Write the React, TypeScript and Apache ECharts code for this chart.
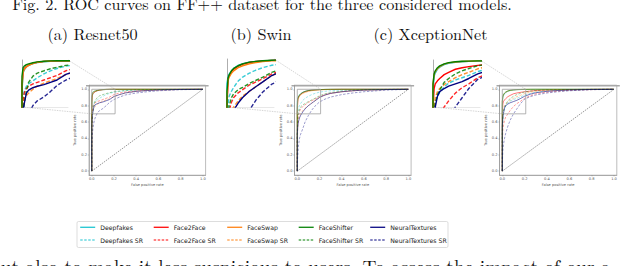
import React, { useEffect, useRef } from 'react';
import * as echarts from 'echarts';

// ---------- data ----------
const fpr = [0, 0, 0.005, 0.01, 0.02, 0.03, 0.05, 0.07, 0.1, 0.13, 0.16, 0.2, 0.25, 0.3, 0.4, 0.5, 0.6, 0.8, 1.0];

const methods = ['Deepfakes', 'Face2Face', 'FaceSwap', 'FaceShifter', 'NeuralTextures'];
const methodColors = ['#17c3cf', '#ff0000', '#ff7f0e', '#008000', '#000080'];
const panelTitles = ['(a) Resnet50', '(b) Swin', '(c) XceptionNet'];
const tickValues = [0, 0.2, 0.4, 0.6, 0.8, 1.0];
const insetX = [0, 0.21];
const insetY = [0.7, 1.0];
const chanceX = [0, 1];
const chanceY = [0, 1];

// (a) Resnet50
const resnetDeepfakes = [0, 0.8, 0.92, 0.94, 0.96, 0.97, 0.982, 0.988, 0.994, 0.997, 0.998, 0.999, 1, 1, 1, 1, 1, 1, 1];
const resnetDeepfakesSR = [0, 0.55, 0.74, 0.8, 0.835, 0.85, 0.87, 0.89, 0.915, 0.935, 0.95, 0.965, 0.975, 0.982, 0.99, 0.994, 0.997, 0.999, 1];
const resnetFace2Face = [0, 0.85, 0.93, 0.95, 0.962, 0.972, 0.985, 0.99, 0.996, 0.998, 0.999, 1, 1, 1, 1, 1, 1, 1, 1];
const resnetFace2FaceSR = [0, 0.5, 0.72, 0.79, 0.82, 0.835, 0.85, 0.86, 0.875, 0.89, 0.905, 0.935, 0.955, 0.968, 0.98, 0.988, 0.993, 0.998, 1];
const resnetFaceSwap = [0, 0.82, 0.925, 0.945, 0.96, 0.97, 0.982, 0.99, 0.995, 0.998, 0.999, 1, 1, 1, 1, 1, 1, 1, 1];
const resnetFaceSwapSR = [0, 0.45, 0.7, 0.75, 0.775, 0.79, 0.815, 0.835, 0.855, 0.87, 0.885, 0.91, 0.935, 0.955, 0.975, 0.985, 0.992, 0.998, 1];
const resnetFaceShifter = [0, 0.9, 0.955, 0.965, 0.975, 0.98, 0.987, 0.993, 0.997, 0.999, 1, 1, 1, 1, 1, 1, 1, 1, 1];
const resnetFaceShifterSR = [0, 0.5, 0.65, 0.72, 0.8, 0.86, 0.9, 0.92, 0.935, 0.948, 0.958, 0.97, 0.978, 0.985, 0.992, 0.995, 0.997, 0.999, 1];
const resnetNeuralTextures = [0, 0.55, 0.68, 0.72, 0.79, 0.81, 0.825, 0.835, 0.845, 0.86, 0.875, 0.912, 0.935, 0.955, 0.975, 0.985, 0.992, 0.998, 1];
const resnetNeuralTexturesSR = [0, 0.3, 0.45, 0.52, 0.6, 0.65, 0.71, 0.74, 0.765, 0.8, 0.84, 0.875, 0.905, 0.93, 0.955, 0.97, 0.982, 0.995, 1];

// (b) Swin
const swinDeepfakes = [0, 0.85, 0.895, 0.91, 0.93, 0.945, 0.965, 0.975, 0.985, 0.99, 0.993, 0.996, 0.998, 0.999, 1, 1, 1, 1, 1];
const swinDeepfakesSR = [0, 0.5, 0.72, 0.77, 0.8, 0.825, 0.865, 0.89, 0.915, 0.935, 0.95, 0.965, 0.975, 0.982, 0.99, 0.994, 0.997, 0.999, 1];
const swinFace2Face = [0, 0.7, 0.88, 0.9, 0.925, 0.94, 0.96, 0.972, 0.983, 0.99, 0.993, 0.996, 0.998, 0.999, 1, 1, 1, 1, 1];
const swinFace2FaceSR = [0, 0.4, 0.62, 0.68, 0.73, 0.76, 0.79, 0.81, 0.84, 0.86, 0.88, 0.91, 0.935, 0.95, 0.97, 0.982, 0.99, 0.997, 1];
const swinFaceSwap = [0, 0.75, 0.87, 0.89, 0.915, 0.93, 0.95, 0.962, 0.975, 0.983, 0.988, 0.993, 0.996, 0.998, 1, 1, 1, 1, 1];
const swinFaceSwapSR = [0, 0.35, 0.55, 0.62, 0.67, 0.7, 0.74, 0.77, 0.8, 0.83, 0.86, 0.9, 0.93, 0.95, 0.97, 0.982, 0.99, 0.997, 1];
const swinFaceShifter = [0, 0.8, 0.885, 0.905, 0.93, 0.945, 0.962, 0.974, 0.985, 0.99, 0.994, 0.997, 0.999, 1, 1, 1, 1, 1, 1];
const swinFaceShifterSR = [0, 0.45, 0.66, 0.71, 0.76, 0.785, 0.81, 0.825, 0.85, 0.87, 0.89, 0.92, 0.945, 0.96, 0.978, 0.987, 0.993, 0.998, 1];
const swinNeuralTextures = [0, 0.45, 0.55, 0.6, 0.65, 0.68, 0.725, 0.76, 0.8, 0.83, 0.86, 0.9, 0.93, 0.95, 0.97, 0.982, 0.99, 0.997, 1];
const swinNeuralTexturesSR = [0, 0.1, 0.2, 0.3, 0.4, 0.45, 0.52, 0.6, 0.68, 0.745, 0.795, 0.845, 0.88, 0.905, 0.935, 0.955, 0.97, 0.99, 1];

// (c) XceptionNet
const xceptionDeepfakes = [0, 0.8, 0.9, 0.92, 0.945, 0.958, 0.975, 0.984, 0.99, 0.994, 0.996, 0.998, 0.999, 1, 1, 1, 1, 1, 1];
const xceptionDeepfakesSR = [0, 0.45, 0.68, 0.73, 0.77, 0.795, 0.83, 0.855, 0.875, 0.89, 0.905, 0.93, 0.95, 0.965, 0.98, 0.988, 0.993, 0.998, 1];
const xceptionFace2Face = [0, 0.7, 0.82, 0.85, 0.87, 0.885, 0.91, 0.925, 0.945, 0.955, 0.962, 0.97, 0.978, 0.985, 0.992, 0.995, 0.997, 0.999, 1];
const xceptionFace2FaceSR = [0, 0.35, 0.5, 0.56, 0.62, 0.66, 0.7, 0.74, 0.79, 0.825, 0.85, 0.89, 0.92, 0.945, 0.965, 0.978, 0.988, 0.996, 1];
const xceptionFaceSwap = [0, 0.85, 0.91, 0.93, 0.95, 0.962, 0.978, 0.986, 0.992, 0.995, 0.997, 0.999, 1, 1, 1, 1, 1, 1, 1];
const xceptionFaceSwapSR = [0, 0.5, 0.7, 0.76, 0.8, 0.82, 0.845, 0.865, 0.89, 0.91, 0.925, 0.948, 0.965, 0.975, 0.985, 0.991, 0.995, 0.999, 1];
const xceptionFaceShifter = [0, 0.85, 0.915, 0.935, 0.955, 0.967, 0.98, 0.988, 0.994, 0.997, 0.998, 0.999, 1, 1, 1, 1, 1, 1, 1];
const xceptionFaceShifterSR = [0, 0.45, 0.65, 0.72, 0.78, 0.81, 0.86, 0.885, 0.915, 0.935, 0.95, 0.968, 0.978, 0.985, 0.992, 0.995, 0.997, 0.999, 1];
const xceptionNeuralTextures = [0, 0.55, 0.65, 0.7, 0.77, 0.8, 0.82, 0.835, 0.85, 0.865, 0.885, 0.915, 0.94, 0.958, 0.975, 0.985, 0.992, 0.998, 1];
const xceptionNeuralTexturesSR = [0, 0.1, 0.25, 0.32, 0.4, 0.46, 0.55, 0.62, 0.7, 0.76, 0.82, 0.88, 0.91, 0.93, 0.955, 0.97, 0.982, 0.995, 1];

const captionText = 'Fig. 2. ROC curves on FF++ dataset for the three considered models.';
const bodyText = 'but also to make it less suspicious to users. To assess the impact of our a';

// ---------- layout ----------
const tprByPanel = [
  [resnetDeepfakes, resnetDeepfakesSR, resnetFace2Face, resnetFace2FaceSR, resnetFaceSwap, resnetFaceSwapSR, resnetFaceShifter, resnetFaceShifterSR, resnetNeuralTextures, resnetNeuralTexturesSR],
  [swinDeepfakes, swinDeepfakesSR, swinFace2Face, swinFace2FaceSR, swinFaceSwap, swinFaceSwapSR, swinFaceShifter, swinFaceShifterSR, swinNeuralTextures, swinNeuralTexturesSR],
  [xceptionDeepfakes, xceptionDeepfakesSR, xceptionFace2Face, xceptionFace2FaceSR, xceptionFaceSwap, xceptionFaceSwapSR, xceptionFaceShifter, xceptionFaceShifterSR, xceptionNeuralTextures, xceptionNeuralTexturesSR],
];

const mainGrids = [
  { left: 89, top: 85.2, width: 116.6, height: 90 },
  { left: 294.5, top: 85.2, width: 116.6, height: 90 },
  { left: 499.5, top: 85.2, width: 117.3, height: 90 },
];
const insetGrids = [
  { left: 22, top: 60, width: 46, height: 47 },
  { left: 227, top: 59, width: 47, height: 48 },
  { left: 433, top: 60, width: 47, height: 47 },
];
const titleCenters = [92.5, 261, 430.5];
const legendLefts = [79.5, 153, 226.5, 298, 369.5];

const serif = '"Latin Modern Roman", "Liberation Serif", serif';
const sans = '"DejaVu Sans", sans-serif';

export default function App() {
  const ref = useRef<HTMLDivElement>(null);
  useEffect(() => {
    if (!ref.current) return;
    const chart = echarts.init(ref.current, undefined, { renderer: 'svg' });

    const grid: any[] = [
      ...mainGrids.map((g) => ({ ...g, show: true, borderColor: '#8f8f8f', borderWidth: 0.6 })),
      ...insetGrids.map((g) => ({ ...g, show: false })),
    ];

    const mainX = mainGrids.map((_, i) => ({
      gridIndex: i, type: 'value', min: -0.025, max: 1.025,
      splitLine: { show: false },
      axisLine: { show: true, onZero: false, lineStyle: { color: '#8f8f8f', width: 0.6 } },
      axisTick: { show: true, length: 1.2, customValues: tickValues, lineStyle: { color: '#777', width: 0.4 } },
      axisLabel: { customValues: tickValues, formatter: (v: number) => v.toFixed(1), fontSize: 3.6, color: '#555', margin: 2, fontFamily: sans },
      name: 'False positive rate', nameLocation: 'middle', nameGap: 8,
      nameTextStyle: { fontSize: 3.6, color: '#555', fontFamily: sans },
    }));
    const mainY = mainGrids.map((_, i) => ({
      gridIndex: i, type: 'value', min: -0.05, max: 1.05,
      splitLine: { show: false },
      axisLine: { show: true, onZero: false, lineStyle: { color: '#8f8f8f', width: 0.6 } },
      axisTick: { show: true, length: 1.2, customValues: tickValues, lineStyle: { color: '#777', width: 0.4 } },
      axisLabel: { customValues: tickValues, formatter: (v: number) => v.toFixed(1), fontSize: 3.6, color: '#555', margin: 2, fontFamily: sans },
      name: 'True positive rate', nameLocation: 'middle', nameGap: 10,
      nameTextStyle: { fontSize: 3.6, color: '#555', fontFamily: sans },
    }));
    const inX = insetGrids.map((_, i) => ({
      gridIndex: i + 3, type: 'value', min: insetX[0], max: insetX[1],
      splitLine: { show: false }, axisTick: { show: false }, axisLabel: { show: false },
      axisLine: { show: true, onZero: false, lineStyle: { color: '#d0d0d0', width: 0.5 } },
    }));
    const inY = insetGrids.map((_, i) => ({
      gridIndex: i + 3, type: 'value', min: insetY[0], max: insetY[1] + 0.005,
      splitLine: { show: false }, axisTick: { show: false }, axisLabel: { show: false },
      axisLine: { show: true, onZero: false, lineStyle: { color: '#999', width: 0.8 } },
    }));

    const series: any[] = [];
    tprByPanel.forEach((tprs, pi) => {
      series.push({
        type: 'line', name: 'chance', xAxisIndex: pi, yAxisIndex: pi, silent: true, z: 1,
        data: chanceX.map((x, k) => [x, chanceY[k]]), symbol: 'none',
        lineStyle: { color: '#333', width: 0.5, type: [1.5, 1] },
      });
      methods.forEach((m, mi) => {
        [0, 1].forEach((sr) => {
          const tpr = tprs[mi * 2 + sr];
          const data = fpr.map((x, k) => [x, tpr[k]]);
          const name = sr ? m + ' SR' : m;
          const color = methodColors[mi];
          series.push({
            type: 'line', name, xAxisIndex: pi, yAxisIndex: pi, data, symbol: 'none', z: 2,
            itemStyle: { color },
            lineStyle: { color, width: 0.6, type: sr ? [2.5, 1.5] : 'solid', opacity: sr ? 0.65 : 0.9 },
          });
          series.push({
            type: 'line', name, xAxisIndex: pi + 3, yAxisIndex: pi + 3, data, symbol: 'none', z: 2,
            itemStyle: { color },
            lineStyle: { color, width: 1.4, type: sr ? [4, 2] : 'solid', opacity: sr ? 0.85 : 1 },
          });
        });
      });
      series.push({
        type: 'line', name: 'zoom box', xAxisIndex: pi, yAxisIndex: pi, silent: true, z: 3, symbol: 'none',
        data: [[insetX[0], insetY[0]], [insetX[1], insetY[0]], [insetX[1], insetY[1]], [insetX[0], insetY[1]], [insetX[0], insetY[0]]],
        lineStyle: { color: '#a0a0a0', width: 0.8 },
      });
    });

    const legend = methods.map((m, mi) => ({
      orient: 'vertical', left: legendLefts[mi], top: 224.3, padding: 0,
      data: [m, m + ' SR'], itemWidth: 15, itemHeight: 6, itemGap: 6.7,
      selectedMode: false,
      itemStyle: { opacity: 0, borderWidth: 0 },
      lineStyle: { width: 1.4 },
      textStyle: { fontSize: 6.2, fontFamily: sans, color: '#222', lineHeight: 6 },
    }));

    chart.setOption({
      animation: false,
      backgroundColor: '#ffffff',
      grid, xAxis: [...mainX, ...inX], yAxis: [...mainY, ...inY],
      series, legend,
    });

    const graphic: any[] = [];
    graphic.push({
      type: 'text', x: 262, y: 11, silent: true,
      style: { text: captionText, font: `16.2px ${serif}`, fill: '#111', align: 'center', verticalAlign: 'bottom' },
    });
    panelTitles.forEach((t, i) => {
      graphic.push({
        type: 'text', x: titleCenters[i], y: 33, silent: true,
        style: { text: t, font: `16.2px ${serif}`, fill: '#111', align: 'center', verticalAlign: 'middle' },
      });
    });
    graphic.push({
      type: 'text', x: -10, y: 256, silent: true,
      style: { text: bodyText, font: `19.4px ${serif}`, fill: '#111', align: 'left', verticalAlign: 'top' },
    });
    graphic.push({
      type: 'rect', shape: { x: 77, y: 221.5, width: 371, height: 26, r: 1.5 }, silent: true, z: -1,
      style: { fill: '#fff', stroke: '#cfcfcf', lineWidth: 0.7 },
    });
    tprByPanel.forEach((_, pi) => {
      const mainIdx = { xAxisIndex: pi, yAxisIndex: pi };
      const inIdx = { xAxisIndex: pi + 3, yAxisIndex: pi + 3 };
      const boxTR = chart.convertToPixel(mainIdx as any, [insetX[1], insetY[1]]) as number[];
      const boxBL = chart.convertToPixel(mainIdx as any, [insetX[0], insetY[0]]) as number[];
      const inTR = chart.convertToPixel(inIdx as any, [insetX[1], insetY[1] + 0.005]) as number[];
      const inBL = chart.convertToPixel(inIdx as any, [insetX[0], insetY[0]]) as number[];
      graphic.push({
        type: 'line', silent: true, shape: { x1: inTR[0], y1: inTR[1], x2: boxTR[0], y2: boxTR[1] },
        style: { stroke: '#b8b8b8', lineWidth: 0.6, lineDash: [1.5, 1] },
      });
      graphic.push({
        type: 'line', silent: true, shape: { x1: inBL[0], y1: inBL[1], x2: boxBL[0], y2: boxBL[1] },
        style: { stroke: '#b8b8b8', lineWidth: 0.6, lineDash: [1.5, 1] },
      });
      const g = mainGrids[pi];
      graphic.push({
        type: 'line', silent: true, shape: { x1: g.left - 3, y1: g.top + 0.5, x2: g.left + g.width + 3, y2: g.top + 0.5 },
        style: { stroke: '#a8a8a8', lineWidth: 1.6 },
      });
    });
    chart.setOption({ graphic });

    return () => chart.dispose();
  }, []);
  return <div ref={ref} style={{ position: 'fixed', left: 0, top: 0, width: 640, height: 266, background: '#fff' }} />;
}
